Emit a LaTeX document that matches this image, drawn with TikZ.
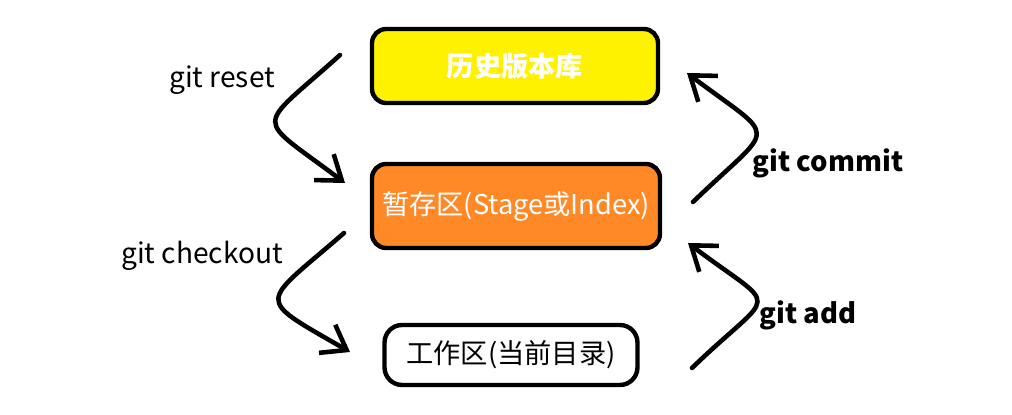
\documentclass[tikz,border=0pt]{standalone}
\usepackage{fontspec}
\setmainfont{Noto Sans CJK SC}
\usetikzlibrary{arrows.meta}
\definecolor{histyellow}{RGB}{255,242,0}
\definecolor{stageorange}{RGB}{255,137,39}
\tikzset{mybox/.style={draw,line width=2.5pt,rounded corners=8pt,inner sep=0pt,font=\fontsize{15.5}{18}\selectfont},
mylabel/.style={inner sep=0pt,font=\fontsize{16}{18}\selectfont},
myboldlabel/.style={inner sep=0pt,font=\fontsize{15.6}{18}\selectfont\bfseries},
myarrow/.style={line width=2.6pt,line cap=round,-{Straight Barb[length=4.5mm,width=6.5mm]}}}

\begin{document}
\begin{tikzpicture}[x=0.02cm,y=0.02cm]
\useasboundingbox (0,0) rectangle (1012,415);
% the three areas
\node[mybox,fill=histyellow,text=white,minimum width=5.72cm,minimum height=1.48cm] (hist) at (515,349) {\bfseries 历史版本库};
\node[mybox,fill=stageorange,text=white,minimum width=5.76cm,minimum height=1.68cm] (stage) at (516,209) {暂存区(Stage或Index)};
\node[mybox,fill=white,rounded corners=10pt,minimum width=5.06cm,minimum height=1.2cm] (work) at (511,60) {工作区(当前目录)};
% commands
\node[mylabel] (reset) at (222,335) {git reset};
\node[mylabel] (checkout) at (202,159) {git checkout};
\node[myboldlabel] (commit) at (828,252) {git commit};
\node[myboldlabel] (add) at (808,100) {git add};
% arrow ends
\coordinate (resetA) at (340,360);
\coordinate (resetB) at (345,232);
\coordinate (checkoutA) at (344,182);
\coordinate (checkoutB) at (350,63);
\coordinate (commitA) at (693,213);
\coordinate (commitB) at (687,342);
\coordinate (addA) at (692,47);
\coordinate (addB) at (688,172);
\draw[myarrow] (resetA) to[out=222,in=143,looseness=2.3] (resetB);
\draw[myarrow] (checkoutA) to[out=221,in=150,looseness=2.4] (checkoutB);
\draw[myarrow] (commitA) to[out=44,in=323,looseness=2.3] (commitB);
\draw[myarrow] (addA) to[out=44,in=323,looseness=2.4] (addB);
\end{tikzpicture}
\end{document}
